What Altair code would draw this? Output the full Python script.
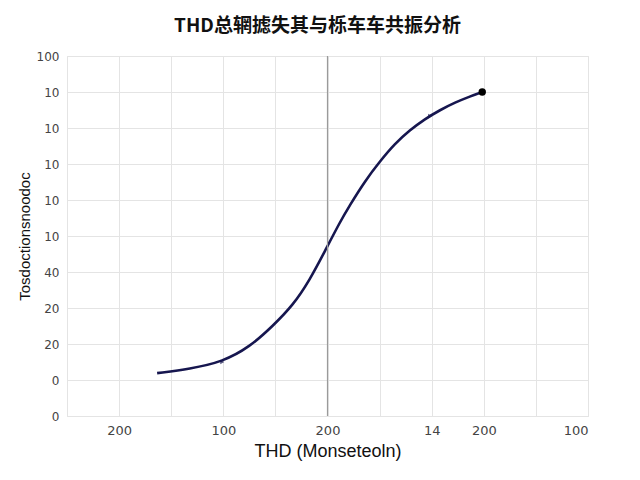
import altair as alt
import pandas as pd

# curve data (x position units 0-10, y 0-100)
curve_x = [1.73, 2.36, 2.98, 3.51, 3.95, 4.34, 4.66, 4.95, 5.24, 5.43, 5.72, 6.01, 6.29, 6.58,
           6.87, 7.16, 7.45, 7.74, 7.97]
curve_y = [11.9, 13.1, 15.0, 19.2, 25.0, 30.8, 37.8, 45.8, 53.9, 58.6, 65.3, 70.8, 75.6, 79.4,
           82.5, 85.0, 87.1, 88.8, 90.0]

marker_x = [2.98, 6.97]
marker_y = [15.0, 83.3]
end_x = [7.97]
end_y = [90.0]

# tick labels (garbled, as in the reference)
x_tick_pos = [1, 3, 5, 7, 8, 10]
x_tick_lab = ["200", "100", "200", "14", "200", "100"]
y_tick_pos = [0, 10, 20, 30, 40, 50, 60, 70, 80, 90, 100]
y_tick_lab = ["0", "0", "20", "20", "40", "10", "10", "10", "10", "10", "100"]

title_text = "THD总辋摅失其与栎车车共振分析"
x_title = "THD (Monseteoln)"
y_title = "Tosdoctionsnoodoc"

rule_x = [5]

def label_expr(pos, lab):
    parts = " : ".join(f"datum.value == {p} ? '{l}'" for p, l in zip(pos, lab))
    return parts + " : ''"

curve = pd.DataFrame({"x": curve_x, "y": curve_y})
markers = pd.DataFrame({"x": marker_x, "y": marker_y})
ends = pd.DataFrame({"x": end_x, "y": end_y})
rules = pd.DataFrame({"x": rule_x})

xs = alt.Scale(domain=[0, 10], nice=False, zero=False)
ys = alt.Scale(domain=[0, 100], nice=False)

x_axis = alt.Axis(values=list(range(0, 11)), tickCount=11, labelExpr=label_expr(x_tick_pos, x_tick_lab),
                  title=x_title, ticks=False, domain=False, labelPadding=8, labelOverlap=False,
                  labelFontSize=13, labelColor="#444", titleFontSize=18,
                  titleFontWeight="normal", titleColor="#111", titlePadding=5,
                  gridColor="#e4e4e4", labelFont="DejaVu Sans", titleFont="Liberation Sans")
y_axis = alt.Axis(values=y_tick_pos, tickCount=11, labelExpr=label_expr(y_tick_pos, y_tick_lab),
                  title=y_title, ticks=False, domain=False, labelPadding=8, labelOverlap=False,
                  labelFontSize=12, labelColor="#444", titleFontSize=15,
                  titleFontWeight="normal", titleColor="#111", titlePadding=4,
                  gridColor="#e4e4e4", labelFont="DejaVu Sans", titleFont="Liberation Sans")

X = alt.X("x:Q", scale=xs, axis=x_axis)
Y = alt.Y("y:Q", scale=ys, axis=y_axis)

base_line = alt.Chart(curve).mark_line(color="#16164f", strokeWidth=2.6, interpolate="basis").encode(
    x=X, y=Y)

rule = alt.Chart(rules).mark_rule(color="#9a9a9a", strokeWidth=1.2).encode(x=X)

pts = alt.Chart(markers).mark_point(shape="triangle-right", filled=True, color="#16164f", size=22).encode(
    x=X, y=Y)

endpt = alt.Chart(ends).mark_circle(color="#000000", size=55, opacity=1).encode(
    x=X, y=Y)

chart = alt.layer(base_line, rule, pts, endpt).properties(
    width=521, height=360,
    title=alt.TitleParams(title_text, fontSize=19, fontWeight="bold", font="Noto Sans CJK SC",
                          color="#111", anchor="middle", dx=-10, offset=14),
    autosize=alt.AutoSizeParams(type="none"),
    padding={"left": 59, "top": 48, "right": 44, "bottom": 56},
).configure_view(stroke="#8a8a8a", strokeWidth=1.5).configure(background="white")

chart.save("out.html", embed_options={"renderer": "svg", "actions": False})
